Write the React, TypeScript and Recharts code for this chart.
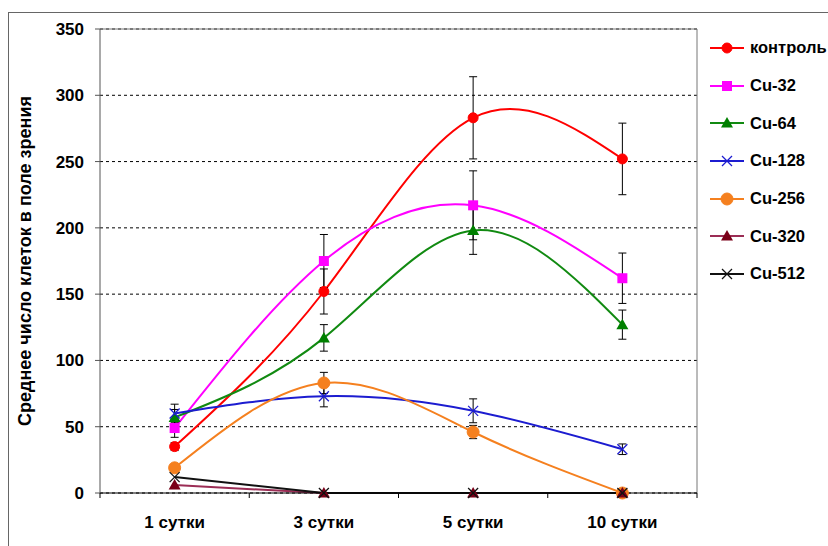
import React from "react";
import { LineChart, Line, XAxis, YAxis, CartesianGrid, ErrorBar, Legend, ReferenceLine } from "recharts";

const categories = ["1 сутки", "3 сутки", "5 сутки", "10 сутки"];
const yTicks = [0, 50, 100, 150, 200, 250, 300, 350];
const xTicks = [-0.5, 0, 0.5, 1, 1.5, 2, 2.5, 3, 3.5];

const control = [35, 152, 283, 252];
const controlErr = [3, 17, 31, 27];
const cu32 = [49, 175, 217, 162];
const cu32Err = [7, 20, 26, 19];
const cu64 = [57, 117, 198, 127];
const cu64Err = [6, 10, 18, 11];
const cu128 = [60, 73, 62, 33];
const cu128Err = [7, 8, 9, 4];
const cu256 = [19, 83, 46, 0];
const cu256Err = [2, 8, 5, 0];
const cu320 = [6, 0, 0, 0];
const cu512 = [12, 0, 0, 0];

const FONT = '"Liberation Sans", Arial, sans-serif';

type MarkerKind = "circle" | "square" | "triangle" | "cross";

const SERIES: {
  key: string; name: string; line: string; fill: string; marker: MarkerKind;
  size: number; curve: "natural" | "linear"; err?: string;
}[] = [
  { key: "control", name: "контроль", line: "#ff0000", fill: "#ff0000", marker: "circle", size: 5, curve: "natural", err: "controlErr" },
  { key: "cu32", name: "Cu-32", line: "#ff00ff", fill: "#ff00ff", marker: "square", size: 5, curve: "natural", err: "cu32Err" },
  { key: "cu64", name: "Cu-64", line: "#118a11", fill: "#008000", marker: "triangle", size: 6, curve: "natural", err: "cu64Err" },
  { key: "cu128", name: "Cu-128", line: "#1c1cd0", fill: "#1c1cd0", marker: "cross", size: 5, curve: "natural", err: "cu128Err" },
  { key: "cu256", name: "Cu-256", line: "#f5801f", fill: "#f5801f", marker: "circle", size: 6, curve: "natural", err: "cu256Err" },
  { key: "cu320", name: "Cu-320", line: "#9b2d55", fill: "#7a0018", marker: "triangle", size: 6, curve: "linear" },
  { key: "cu512", name: "Cu-512", line: "#111111", fill: "#111111", marker: "cross", size: 5, curve: "linear" },
];

const data = categories.map((label, i) => ({
  x: i,
  label,
  control: control[i],
  controlErr: controlErr[i],
  cu32: cu32[i],
  cu32Err: cu32Err[i],
  cu64: cu64[i],
  cu64Err: cu64Err[i],
  cu128: cu128[i],
  cu128Err: cu128Err[i],
  cu256: cu256[i],
  cu256Err: cu256Err[i],
  cu320: cu320[i],
  cu512: cu512[i],
}));

function Marker({ kind, cx, cy, color, size }: { kind: MarkerKind; cx: number; cy: number; color: string; size: number }) {
  if (kind === "circle") return <circle cx={cx} cy={cy} r={size} fill={color} stroke={color} />;
  if (kind === "square")
    return <rect x={cx - size} y={cy - size} width={size * 2} height={size * 2} fill={color} />;
  if (kind === "triangle")
    return (
      <polygon
        points={`${cx},${cy - size} ${cx + size},${cy + size * 0.75} ${cx - size},${cy + size * 0.75}`}
        fill={color}
      />
    );
  return (
    <g stroke={color} strokeWidth={1.2}>
      <line x1={cx - size} y1={cy - size} x2={cx + size} y2={cy + size} />
      <line x1={cx - size} y1={cy + size} x2={cx + size} y2={cy - size} />
    </g>
  );
}

function dotFor(kind: MarkerKind, color: string, size: number) {
  return (props: any) => {
    const { cx, cy, index } = props;
    if (cx == null || cy == null) return <g key={index} />;
    return (
      <g key={index}>
        <Marker kind={kind} cx={cx} cy={cy} color={color} size={size} />
      </g>
    );
  };
}

function XTick(props: any) {
  const { x, y, payload } = props;
  const v = payload.value;
  if (Number.isInteger(v)) {
    return (
      <text x={x} y={y + 35} textAnchor="middle" fill="#000" fontFamily={FONT} fontWeight={700} fontSize={17}>
        {categories[v]}
      </text>
    );
  }
  return <line x1={x} y1={y} x2={x} y2={y + 5} stroke="#000" />;
}

function LegendBox() {
  return (
    <div style={{ fontFamily: FONT, fontWeight: 700, fontSize: 16.5, color: "#000" }}>
      {SERIES.map((s) => (
        <div key={s.key} style={{ display: "flex", alignItems: "center", height: 37.7 }}>
          <svg width={40} height={16} style={{ display: "block" }}>
            <line x1={5} y1={8} x2={39} y2={8} stroke={s.line} strokeWidth={2} />
            <Marker kind={s.marker} cx={22} cy={8} color={s.fill} size={s.size} />
          </svg>
          <span style={{ marginLeft: 5, whiteSpace: "nowrap" }}>{s.name}</span>
        </div>
      ))}
    </div>
  );
}

export default function App() {
  return (
    <div style={{ position: "fixed", left: 0, top: 0, width: 828, height: 546, overflow: "hidden", background: "#fff" }}>
      <div
        style={{
          position: "absolute",
          left: 8,
          top: 12,
          width: 900,
          height: 600,
          border: "1px solid #666",
        }}
      />
      <div style={{ position: "absolute", left: 0, top: 0 }}>
        <LineChart width={828} height={546} data={data} margin={{ top: 29, right: 131, bottom: 23, left: 0 }}>
          <CartesianGrid vertical={false} strokeDasharray="3 3" stroke="#000" />
          <XAxis
            type="number"
            dataKey="x"
            domain={[-0.5, 3.5]}
            ticks={xTicks}
            interval={0}
            tickLine={false}
            tickSize={0}
            tickMargin={0}
            tick={<XTick />}
            axisLine={{ stroke: "#000" }}
            height={30}
            allowDataOverflow
          />
          <YAxis
            type="number"
            domain={[0, 350]}
            ticks={yTicks}
            interval={0}
            width={100}
            tickSize={5}
            tickMargin={11}
            tick={{ fill: "#000", fontFamily: FONT, fontWeight: 700, fontSize: 17 }}
            axisLine={{ stroke: "#555" }}
            tickLine={{ stroke: "#555" }}
            label={{
              value: "Среднее число клеток в поле зрения",
              angle: -90,
              position: "insideLeft",
              offset: 25,
              style: { textAnchor: "middle", fill: "#000", fontFamily: FONT, fontWeight: 700, fontSize: 18 },
            }}
          />
          <ReferenceLine y={350} stroke="#777" />
          <ReferenceLine x={3.5} stroke="#777" />
          {SERIES.map((s) => (
            <Line
              key={s.key}
              dataKey={s.key}
              name={s.name}
              type={s.curve}
              stroke={s.line}
              strokeWidth={2}
              dot={dotFor(s.marker, s.fill, s.size)}
              activeDot={false}
              isAnimationActive={false}
            >
              {s.err && <ErrorBar dataKey={s.err} width={4} stroke="#000" strokeWidth={1} direction="y" />}
            </Line>
          ))}
          <Legend
            layout="vertical"
            align="center"
            verticalAlign="middle"
            content={<LegendBox />}
            wrapperStyle={{ left: 705, top: 29, width: 140 }}
          />
        </LineChart>
      </div>
    </div>
  );
}
